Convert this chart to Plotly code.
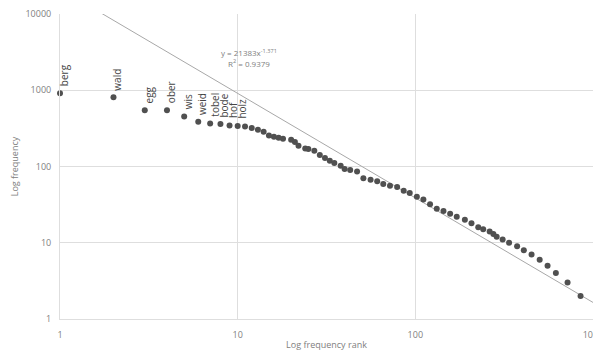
import math
import plotly.graph_objects as go

# ---- data ----
ranks = [1, 2, 3, 4, 5, 6, 7, 8, 9, 10, 11, 12, 13, 14, 15, 16, 17, 18,
         20, 21, 22, 24, 25, 27, 29, 31, 33, 35, 38, 40, 43, 47, 51, 56, 61, 66, 72, 79,
         86, 93, 102, 111, 121, 132, 144, 157, 171, 190, 207, 226, 241, 262, 275, 287,
         310, 337, 374, 408, 451, 501, 555, 618, 719, 851]
freqs = [916, 812, 548, 548, 452, 385, 366, 360, 345, 341, 334, 319, 303, 285, 255, 245, 238, 231,
         224, 209, 187, 172, 169, 161, 142, 129, 119, 111, 102, 93, 90, 86, 70, 67, 64, 59, 56, 54,
         48, 45, 40, 37, 32, 28, 26, 24, 22, 20, 18, 16, 15, 14, 13, 12,
         11, 10, 9, 8, 7, 6, 5, 4, 3, 2]
labels = ["berg", "wald", "egg", "ober", "wis", "weid", "tobel", "bode", "hof", "holz"]

fit_a = 21383
fit_b = -1.371
fit_r2 = 0.9379
fit_x = [1, 1000]

tick_vals_y = [1, 10, 100, 1000, 10000]
tick_text_y = ["1", "10", "100", "1000", "10000"]
tick_vals_x = [1, 10, 100, 1000]
tick_text_x = ["1", "10", "100", "1000"]

FONT = "Open Sans, Liberation Sans, sans-serif"
GRID = "#dedede"
TICK = "#808080"

# page body adds an 8px offset; figure sized so plot area sits at x 60..593, y 14..319
W, H = 593, 343
ML, MR, MT, MB = 52, 8, 6, 32
PW, PH = W - ML - MR, H - MT - MB

fig = go.Figure()

fig.add_trace(go.Scatter(
    x=fit_x, y=[fit_a * v ** fit_b for v in fit_x],
    mode="lines", line=dict(color="#a8a8a8", width=1),
    hoverinfo="skip", showlegend=False,
))

fig.add_trace(go.Scatter(
    x=ranks, y=freqs, mode="markers",
    marker=dict(color="#505050", size=6, line=dict(width=0)),
    showlegend=False, cliponaxis=False,
))

for i, name in enumerate(labels):
    fig.add_annotation(
        x=math.log10(ranks[i]), y=math.log10(freqs[i]), xref="x", yref="y",
        text=name, showarrow=False, textangle=-90,
        xanchor="center", yanchor="bottom", xshift=4, yshift=5,
        font=dict(family=FONT, size=10, color="#454545"),
    )

# equation block: top near page y 45, centred near page x 249
fig.add_annotation(
    x=(249 - 8 - ML) / PW, y=1 - (45 - 8 - MT) / PH,
    xref="paper", yref="paper", xanchor="center", yanchor="top",
    text=f"y = {fit_a}x<sup>{fit_b}</sup><br>R<sup>2</sup> = {fit_r2}",
    showarrow=False, align="center",
    font=dict(family=FONT, size=8, color=TICK),
)

fig.update_xaxes(
    type="log", range=[0, 3], automargin=False,
    tickvals=tick_vals_x, ticktext=tick_text_x,
    showgrid=True, gridcolor=GRID, gridwidth=1,
    showline=True, linecolor=GRID, linewidth=1,
    zeroline=False, ticks="outside", ticklen=7, tickcolor="rgba(0,0,0,0)",
    ticklabeloverflow="allow",
    tickfont=dict(family=FONT, size=9, color=TICK),
    title=dict(text="Log frequency rank", standoff=8,
               font=dict(family=FONT, size=9, color=TICK)),
)
fig.update_yaxes(
    type="log", range=[0, 4], automargin=False,
    tickvals=tick_vals_y, ticktext=tick_text_y,
    showgrid=True, gridcolor=GRID, gridwidth=1,
    showline=True, linecolor=GRID, linewidth=1,
    zeroline=False, ticks="outside", ticklen=6, tickcolor="rgba(0,0,0,0)",
    ticklabeloverflow="allow",
    tickfont=dict(family=FONT, size=9, color=TICK),
    title=dict(text="Log frequency", standoff=5,
               font=dict(family=FONT, size=9, color=TICK)),
)

fig.update_layout(
    width=W, height=H,
    margin=dict(l=ML, r=MR, t=MT, b=MB),
    paper_bgcolor="white", plot_bgcolor="white",
    showlegend=False,
)

fig.write_html("out.html")
